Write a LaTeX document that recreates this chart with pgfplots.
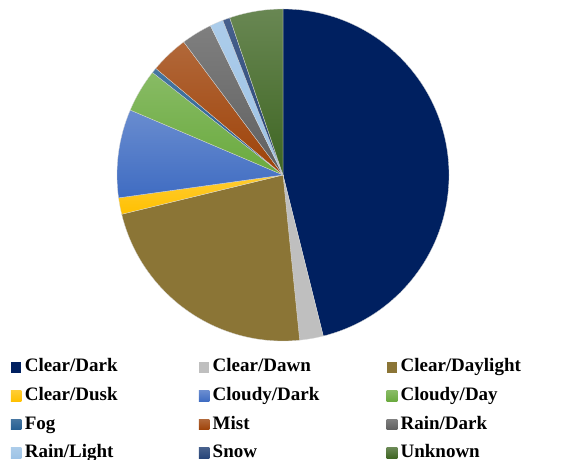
\documentclass[border=0pt]{standalone}
\usepackage{pgfplots}
\usepackage{pgfplotstable}
\pgfplotsset{compat=1.18}
\usepackage{fontspec}
\setmainfont{Liberation Serif}

\definecolor{slice0}{HTML}{002060}
\definecolor{slice1}{HTML}{BFBFBF}
\definecolor{slice2}{HTML}{8B7536}
\definecolor{slice3}{HTML}{FFC000}
\definecolor{slice4}{HTML}{3F6CC2}
\definecolor{slice5}{HTML}{6AAA3E}
\definecolor{slice6}{HTML}{255E91}
\definecolor{slice7}{HTML}{9E4208}
\definecolor{slice8}{HTML}{5F5F5F}
\definecolor{slice9}{HTML}{9DC3E6}
\definecolor{slice10}{HTML}{264478}
\definecolor{slice11}{HTML}{3E6522}

\tikzset{
  s0/.style={fill=slice0},
  s1/.style={fill=slice1},
  s2/.style={fill=slice2},
  s3/.style={top color=slice3!80!white, bottom color=slice3},
  s4/.style={top color=slice4!78!white, bottom color=slice4},
  s5/.style={top color=slice5!80!white, bottom color=slice5},
  s6/.style={top color=slice6!85!white, bottom color=slice6},
  s7/.style={top color=slice7!80!white, bottom color=slice7},
  s8/.style={top color=slice8!80!white, bottom color=slice8},
  s9/.style={top color=slice9!85!white, bottom color=slice9},
  s10/.style={top color=slice10!85!white, bottom color=slice10},
  s11/.style={top color=slice11!78!white, bottom color=slice11},
}

\pgfplotstableread[col sep=comma]{
label,value
Clear/Dark,46.1
Clear/Dawn,2.3
Clear/Daylight,22.8
Clear/Dusk,1.6
Cloudy/Dark,8.6
Cloudy/Day,4.2
Fog,0.5
Mist,3.7
Rain/Dark,3.0
Rain/Light,1.3
Snow,0.7
Unknown,5.2
}\piedata
\pgfplotstablecreatecol[create col/expr accum={\pgfmathaccuma + \thisrow{value}}{0}]{cum}\piedata

\begin{document}
\begin{tikzpicture}
\useasboundingbox (0,0) rectangle (578bp,460bp);
\begin{axis}[
  hide axis,
  x=166bp, y=166bp,
  xmin=-1, xmax=1, ymin=-1, ymax=1,
  at={(283bp,285bp)}, anchor=origin,
  clip=false,
  legend columns=3,
  legend image code/.code={\path[#1] (0bp,-5.3bp) rectangle (10.6bp,5.3bp);},
  legend style={
    at={(axis cs:-1.6404,-1.1006)}, anchor=north west,
    draw=none, fill=none, inner sep=0pt,
    column sep=0pt, row sep=9.6bp,
    /tikz/every odd column/.append style={column sep=3.3bp},
    cells={anchor=west},
    nodes={font=\fontsize{19bp}{22bp}\selectfont\bfseries, inner sep=0pt,
           text width=174bp, text height=14bp, text depth=5bp},
  },
]
\pgfplotsinvokeforeach{0,...,11}{
  \pgfplotstablegetelem{#1}{value}\of\piedata \let\v\pgfplotsretval
  \pgfplotstablegetelem{#1}{cum}\of\piedata \let\c\pgfplotsretval
  \pgfmathsetmacro\b{3.6*\c}
  \pgfmathsetmacro\a{3.6*(\c-\v)}
  \edef\next{\noexpand\path[s#1, draw=white!85!black, line width=0.3bp]
    (axis cs:0,0) -- (axis cs:{sin(\a)},{cos(\a)})
    arc[start angle={90-\a}, end angle={90-\b}, radius=166bp] -- cycle;}
  \next
}
\pgfplotsinvokeforeach{0,...,11}{
  \pgfplotstablegetelem{#1}{label}\of\piedata \let\lab\pgfplotsretval
  \edef\next{\noexpand\addlegendimage{s#1, draw=none}
    \noexpand\addlegendentry{\lab}}
  \next
}
\end{axis}
\end{tikzpicture}
\end{document}
